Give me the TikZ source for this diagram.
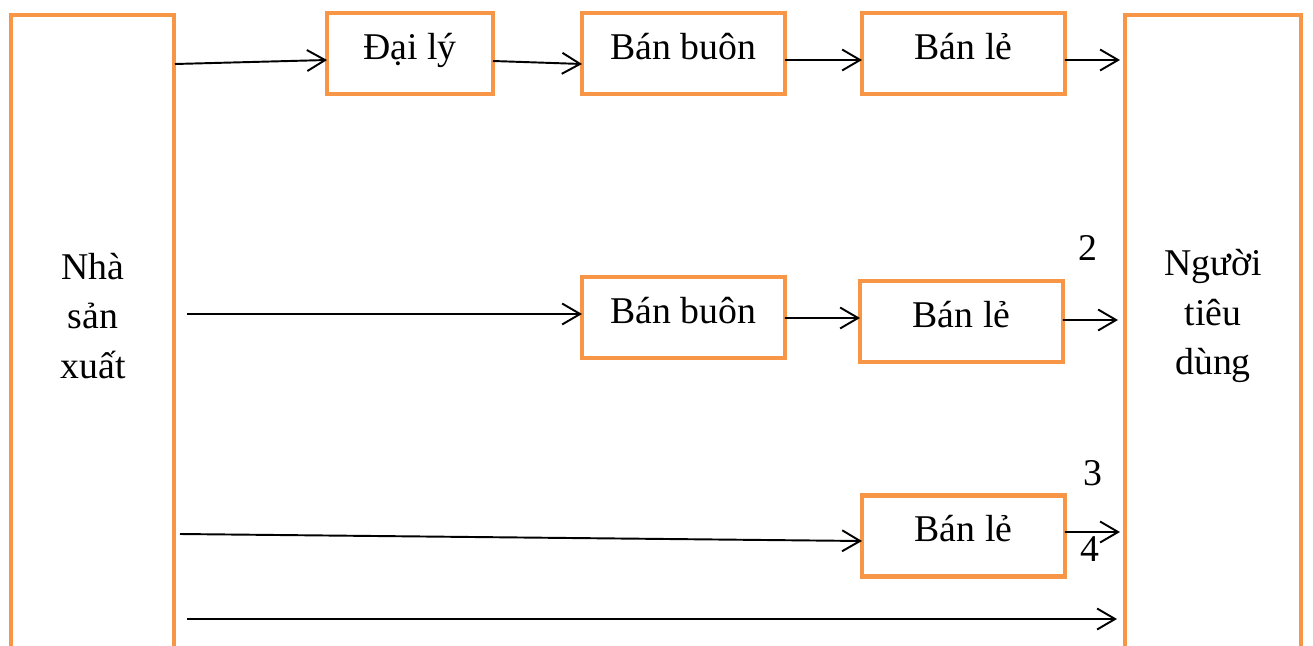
\documentclass[tikz,border=0pt]{standalone}
\usepackage{fontspec}
\setmainfont{Liberation Serif}
\usetikzlibrary{arrows.meta}
\definecolor{boxorange}{HTML}{F79646}
\begin{document}
\begin{tikzpicture}[x=0.02cm, y=-0.02cm, -{Straight Barb[length=0.36cm,width=0.42cm]}, line width=1.1pt, font=\fontsize{21.5}{28}\selectfont]
		\tikzstyle{box} = [rectangle, draw=boxorange, line width=2.5pt, minimum height=1.62cm, outer sep=0pt, inner sep=0pt, text height=0.76em, text depth=0.1em]
		\tikzstyle{wide} = [box, minimum width=4.06cm]
		\tikzstyle{tall} = [rectangle, draw=boxorange, line width=2.5pt, minimum height=13cm, outer sep=0pt, anchor=north west]
		\useasboundingbox (0,0) rectangle (1313,646);
		\clip (0,0) rectangle (1313,646);
		% end boxes
		\node[tall, minimum width=3.26cm](maker) at (11,15) {};
		\node[tall, minimum width=3.52cm](user) at (1125,15) {};
		\node[align=center](makertext) at (93,316) {Nhà\\sản\\xuất};
		\node[align=center](usertext) at (1213,316) {Người\\tiêu\\dùng};
		% channel boxes
		\node[box, minimum width=3.32cm](agent) at (410,53.5) {Đại lý};
		\node[wide](whole1) at (683.5,53.5) {Bán buôn};
		\node[wide](retail1) at (963.5,53.5) {Bán lẻ};
		\node[wide](whole2) at (683.5,317.5) {Bán buôn};
		\node[wide](retail2) at (961.5,321.5) {Bán lẻ};
		\node[wide](retail3) at (963.5,536) {Bán lẻ};
		% channel numbers
		\node(num2) at (1088,248) {2};
		\node(num3) at (1093,473) {3};
		\node(num4) at (1090,549) {4};
		% free arrow ends
		\coordinate(s1) at (175,64);
		\coordinate(e1) at (1120,60);
		\coordinate(s2) at (187,314);
		\coordinate(e2) at (1118,320);
		\coordinate(s3) at (180,534);
		\coordinate(e3) at (1120,532);
		\coordinate(s4) at (187,619);
		\coordinate(e4) at (1117,619);
		% channel 1
		\draw (s1) -- ([yshift=-0.13cm]agent.west);
		\draw ([yshift=-0.15cm]agent.east) -- ([yshift=-0.21cm]whole1.west);
		\draw ([yshift=-0.13cm]whole1.east) -- ([yshift=-0.13cm]retail1.west);
		\draw ([yshift=-0.13cm]retail1.east) -- (e1);
		% channel 2
		\draw (s2) -- ([yshift=0.07cm]whole2.west);
		\draw ([yshift=-0.01cm]whole2.east) -- ([yshift=0.07cm]retail2.west);
		\draw ([yshift=0.03cm]retail2.east) -- (e2);
		% channel 3
		\draw (s3) -- ([yshift=-0.1cm]retail3.west);
		\draw ([yshift=0.08cm]retail3.east) -- (e3);
		% channel 4
		\draw (s4) -- (e4);
	\end{tikzpicture}
\end{document}
